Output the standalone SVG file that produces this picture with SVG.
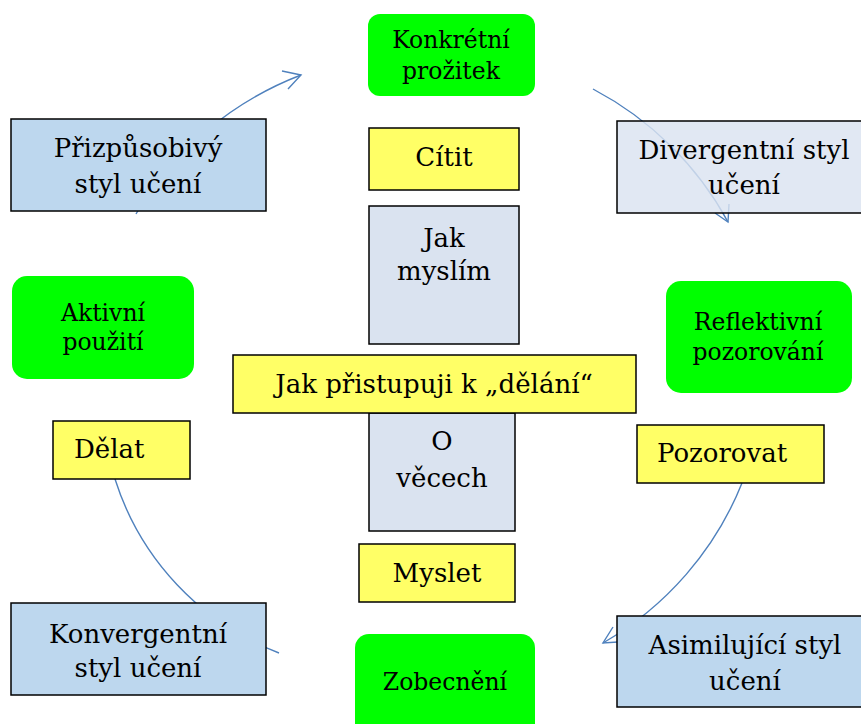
<svg xmlns="http://www.w3.org/2000/svg" width="861" height="724" viewBox="0 0 861 724">
  <style>
    text { font-family: "DejaVu Serif", "Liberation Serif", serif; fill: #000; text-anchor: middle; }
    .big { font-size: 26px; }
    .small { font-size: 23.5px; }
    .green { fill: #00FF00; stroke: none; }
    .yellow { fill: #FFFF66; stroke: #000; stroke-width: 1.5; }
    .blue { fill: #BDD7EE; stroke: #000; stroke-width: 1.5; }
    .pale { fill: #DAE3F0; stroke: #000; stroke-width: 1.5; }
    .arc { fill: none; stroke: #4F81BD; stroke-width: 1.4; }
  </style>

  <!-- cycle arcs (drawn first so boxes cover them) -->
  <g id="connectors">
    <path class="arc" d="M136,214 A330,322 0 0,1 301,75"/>
    <polyline class="arc" points="282,71 301,75 288,89"/>
    <path class="arc" d="M593,89 A330,322 0 0,1 728,222"/>
    <polyline class="arc" points="715,213 728,222 729,204"/>
    <path class="arc" d="M742,483 A330,322 0 0,1 603,643"/>
    <polyline class="arc" points="613,627 603,643 618,642"/>
    <path class="arc" d="M115,479 A275,275 0 0,0 279,653"/>
  </g>

  <g id="konkretni-prozitek">
    <rect class="green" x="368" y="14" width="167" height="82" rx="12"/>
    <text class="small" x="451" y="48">Konkrétní</text>
    <text class="small" x="451" y="79">prožitek</text>
  </g>

  <g id="citit">
    <rect class="yellow" x="369" y="128" width="150" height="62"/>
    <text class="big" x="444" y="166">Cítit</text>
  </g>

  <g id="jak-myslim">
    <rect class="pale" x="369" y="206" width="150" height="138"/>
    <text class="big" x="444" y="247">Jak</text>
    <text class="big" x="444" y="280">myslím</text>
  </g>

  <g id="prizpusobivy">
    <rect class="blue" x="11" y="119" width="255" height="92"/>
    <text class="big" x="138" y="157">Přizpůsobivý</text>
    <text class="big" x="138" y="193">styl učení</text>
  </g>

  <g id="divergentni">
    <rect class="pale" x="617" y="121" width="250" height="92" fill-opacity="0.82"/>
    <text class="big" x="744" y="159">Divergentní styl</text>
    <text class="big" x="744" y="194">učení</text>
  </g>

  <g id="aktivni-pouziti">
    <rect class="green" x="12" y="276" width="182" height="103" rx="15"/>
    <text class="small" x="103" y="321">Aktivní</text>
    <text class="small" x="103" y="350">použití</text>
  </g>

  <g id="reflektivni-pozorovani">
    <rect class="green" x="666" y="281" width="186" height="112" rx="15"/>
    <text class="small" x="758" y="330">Reflektivní</text>
    <text class="small" x="758" y="360">pozorování</text>
  </g>

  <g id="o-vecech">
    <rect class="pale" x="369" y="413" width="146" height="118"/>
    <text class="big" x="442" y="450">O</text>
    <text class="big" x="442" y="487">věcech</text>
  </g>

  <g id="jak-pristupuji">
    <rect class="yellow" x="233" y="355" width="403" height="58"/>
    <text class="big" x="434" y="393">Jak přistupuji k „dělání“</text>
  </g>

  <g id="delat">
    <rect class="yellow" x="53" y="421" width="137" height="58"/>
    <text class="big" x="74" y="458" style="text-anchor:start">Dělat</text>
  </g>

  <g id="pozorovat">
    <rect class="yellow" x="637" y="425" width="187" height="58"/>
    <text class="big" x="657" y="462" style="text-anchor:start">Pozorovat</text>
  </g>

  <g id="myslet">
    <rect class="yellow" x="359" y="544" width="156" height="58"/>
    <text class="big" x="437" y="582">Myslet</text>
  </g>

  <g id="konvergentni">
    <rect class="blue" x="11" y="603" width="255" height="92"/>
    <text class="big" x="138" y="643">Konvergentní</text>
    <text class="big" x="138" y="677">styl učení</text>
  </g>

  <g id="asimilujici">
    <rect class="blue" x="617" y="616" width="250" height="91"/>
    <text class="big" x="745" y="654">Asimilující styl</text>
    <text class="big" x="745" y="690">učení</text>
  </g>

  <g id="zobecneni">
    <rect class="green" x="355" y="634" width="180" height="110" rx="14"/>
    <text class="small" x="445" y="690">Zobecnění</text>
  </g>
</svg>
